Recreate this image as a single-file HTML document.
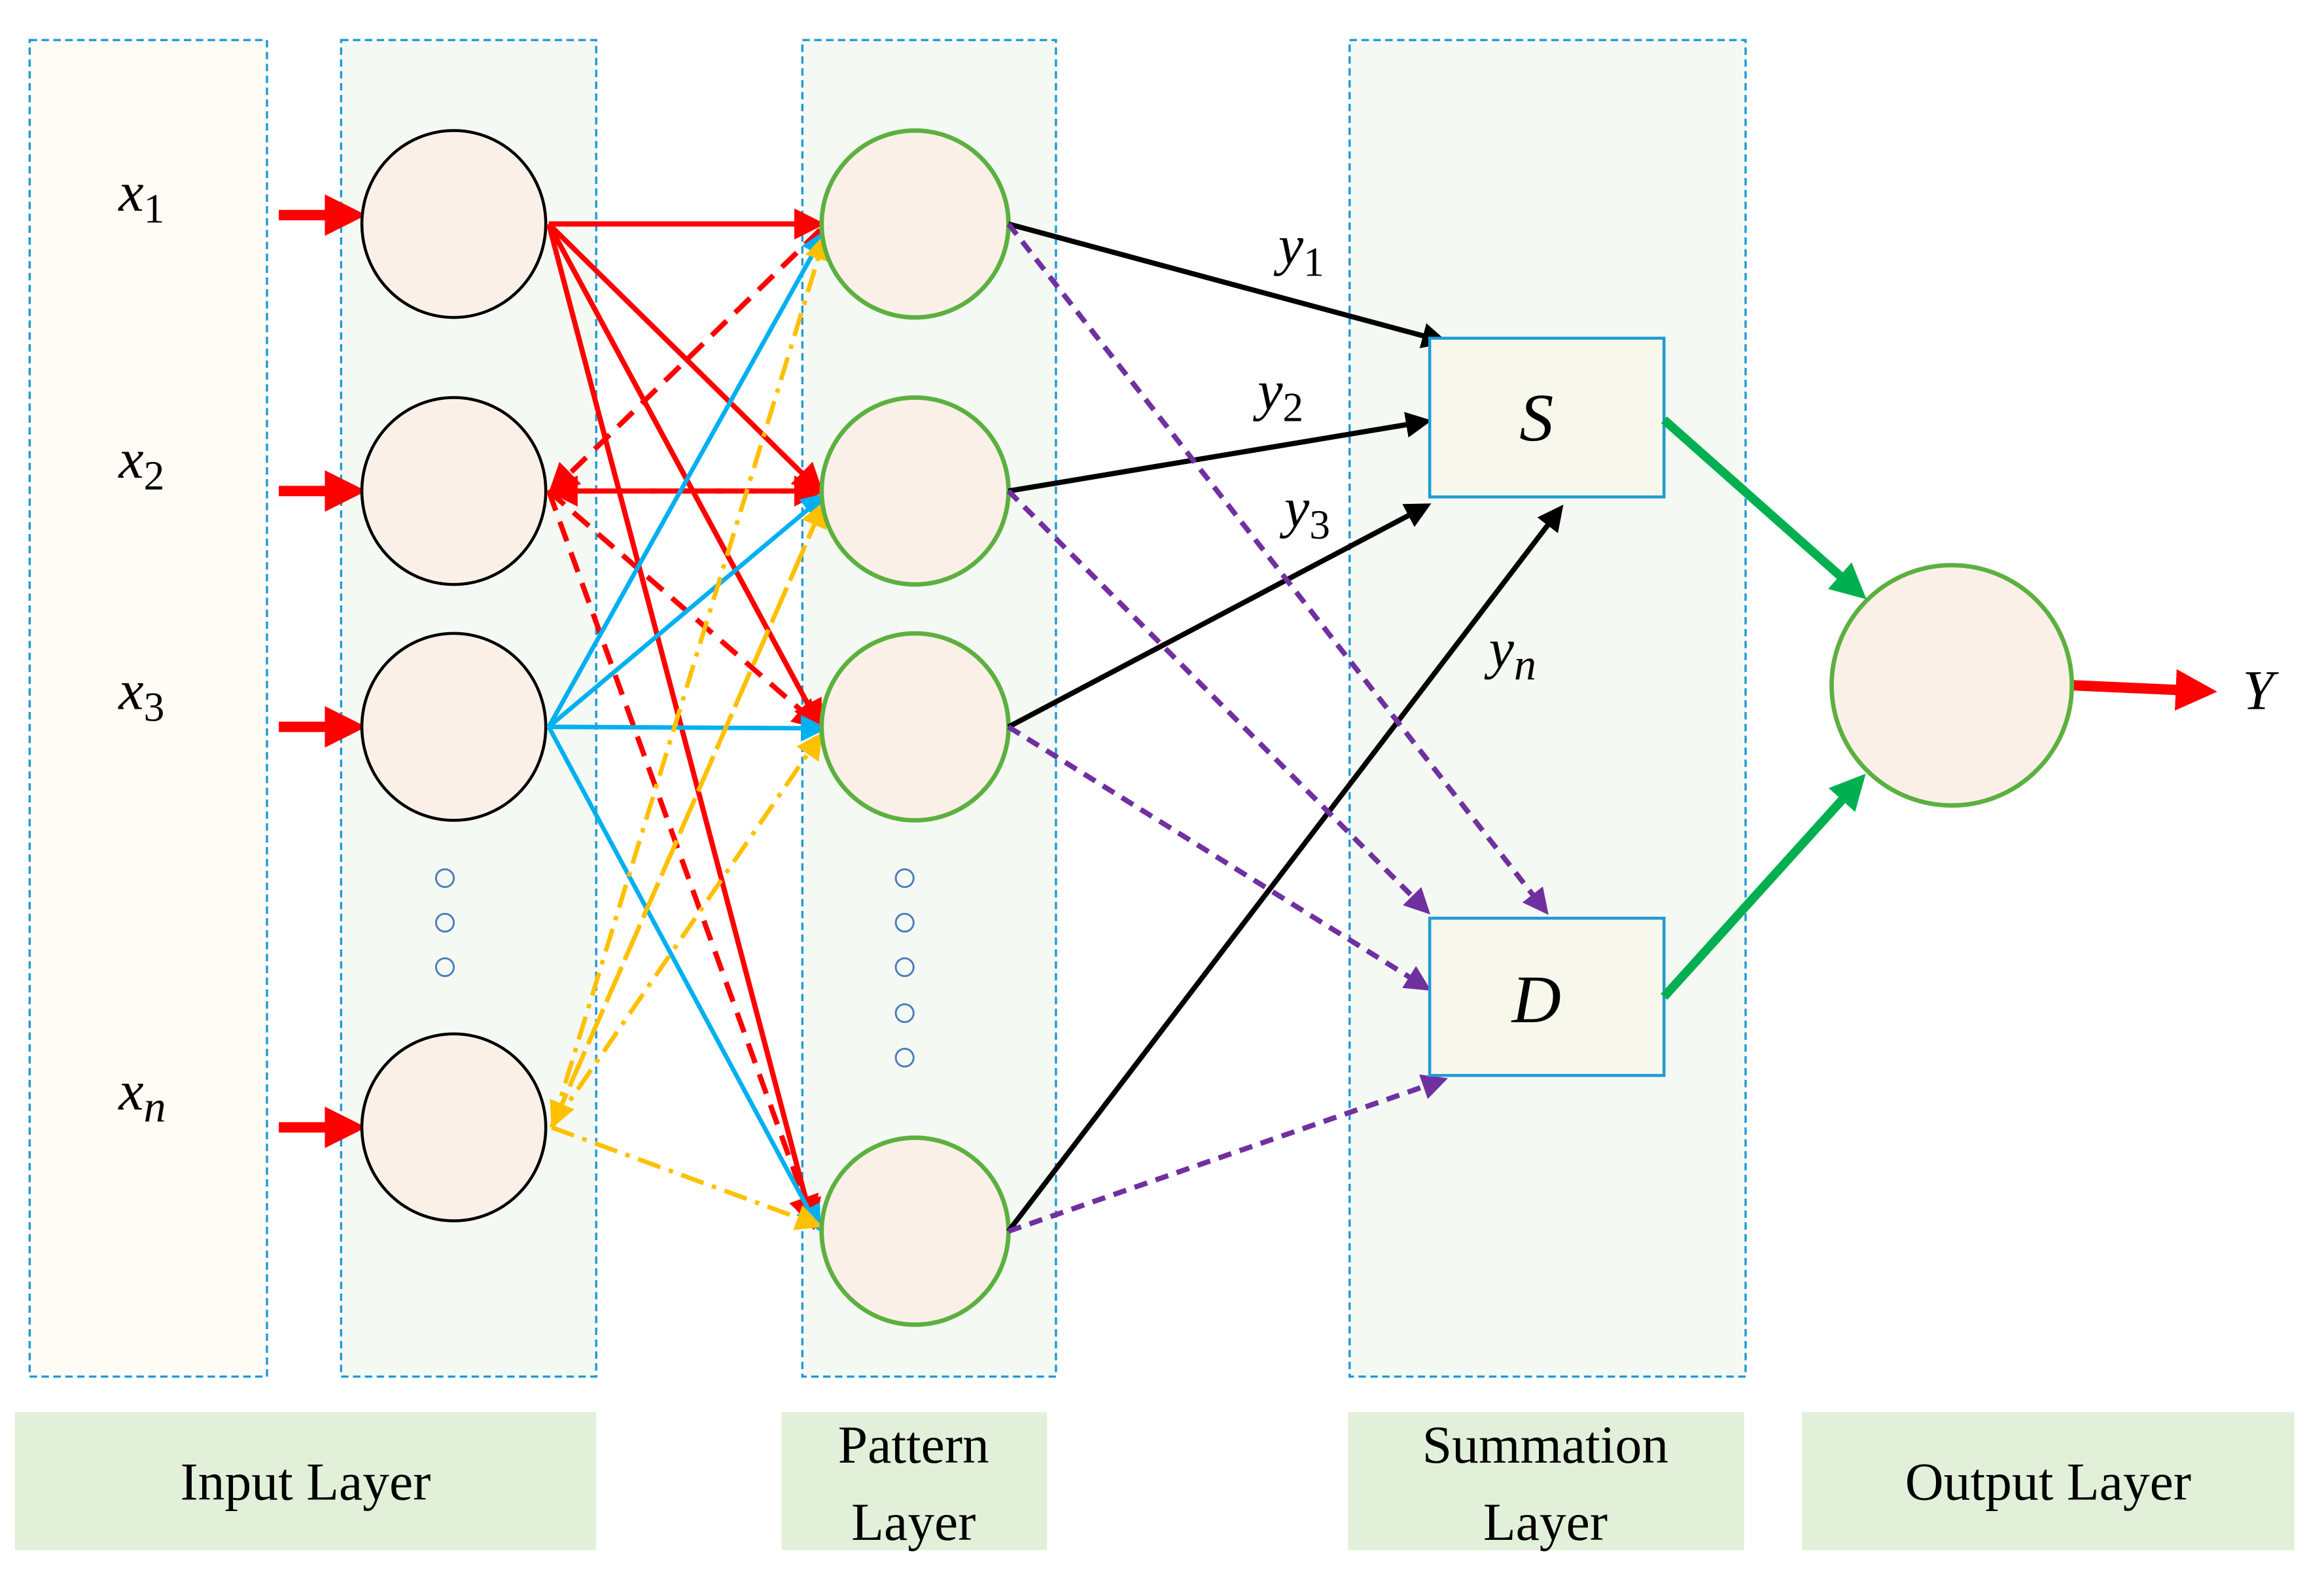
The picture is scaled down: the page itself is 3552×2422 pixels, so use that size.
<!DOCTYPE html>
<html><head><style>html,body{margin:0;padding:0;background:#fff}svg{display:block}</style></head><body>
<svg width="3552" height="2422" viewBox="0 0 1567 1068.5" preserveAspectRatio="none" xmlns="http://www.w3.org/2000/svg" font-family="'Liberation Serif',serif">
<defs>
<marker id="ar" markerWidth="6" markerHeight="6" refX="5" refY="3" orient="auto" markerUnits="strokeWidth"><path d="M0,0L6,3L0,6z" fill="#f00"/></marker>
<marker id="ac" markerWidth="6" markerHeight="6" refX="5" refY="3" orient="auto" markerUnits="strokeWidth"><path d="M0,0L6,3L0,6z" fill="#00b0f0"/></marker>
<marker id="ao" markerWidth="6" markerHeight="6" refX="5" refY="3" orient="auto" markerUnits="strokeWidth"><path d="M0,0L6,3L0,6z" fill="#ffc000"/></marker>
<marker id="ak" markerWidth="5" markerHeight="5" refX="4" refY="2.5" orient="auto" markerUnits="strokeWidth"><path d="M0,0L5,2.5L0,5z" fill="#000"/></marker>
<marker id="ap" markerWidth="5" markerHeight="5" refX="4" refY="2.5" orient="auto" markerUnits="strokeWidth"><path d="M0,0L5,2.5L0,5z" fill="#7030a0"/></marker>
<marker id="ag" markerWidth="4" markerHeight="4" refX="3" refY="2" orient="auto" markerUnits="strokeWidth"><path d="M0,0L4,2L0,4z" fill="#00b050"/></marker>
<marker id="aR" markerWidth="4" markerHeight="4" refX="3" refY="2" orient="auto" markerUnits="strokeWidth"><path d="M0,0L4,2L0,4z" fill="#f00"/></marker>
</defs>
<g stroke="#1f9ad6" stroke-width="1.5" stroke-dasharray="5,3">
<rect x="20" y="27" width="160" height="901" fill="#fffbf5"/>
<rect x="230" y="27" width="172" height="901" fill="#f5f9f3"/>
<rect x="541" y="27" width="171" height="901" fill="#f5f9f3"/>
<rect x="910" y="27" width="267" height="901" fill="#f5f9f3"/>
</g>
<g fill="#e2f0d9">
<rect x="10" y="952" width="392" height="93"/><rect x="527" y="952" width="179" height="93"/>
<rect x="909" y="952" width="267" height="93"/><rect x="1215" y="952" width="332" height="93"/>
</g>
<g font-size="36" text-anchor="middle" fill="#000">
<text x="206" y="1011">Input Layer</text>
<text x="616" y="986">Pattern</text><text x="616" y="1038">Layer</text>
<text x="1042" y="986">Summation</text><text x="1042" y="1038">Layer</text>
<text x="1381" y="1011">Output Layer</text>
</g>
<g font-size="38" font-style="italic">
<text x="80" y="142">x<tspan font-size="28" font-style="normal" dy="8">1</tspan></text>
<text x="80" y="322">x<tspan font-size="28" font-style="normal" dy="8">2</tspan></text>
<text x="80" y="478">x<tspan font-size="28" font-style="normal" dy="8">3</tspan></text>
<text x="80" y="748">x<tspan font-size="30" dy="8">n</tspan></text>
<text x="862" y="178">y<tspan font-size="28" font-style="normal" dy="8">1</tspan></text>
<text x="848" y="276">y<tspan font-size="28" font-style="normal" dy="8">2</tspan></text>
<text x="866" y="355">y<tspan font-size="28" font-style="normal" dy="8">3</tspan></text>
<text x="1004" y="450">y<tspan font-size="30" dy="8">n</tspan></text>
<text x="1512" y="478">Y</text>
</g>
<g stroke="#f00" stroke-width="7" marker-end="url(#aR)">
<line x1="188" y1="145" x2="240" y2="145"/><line x1="188" y1="331" x2="240" y2="331"/>
<line x1="188" y1="490" x2="240" y2="490"/><line x1="188" y1="760" x2="240" y2="760"/>
<line x1="1398" y1="462" x2="1488" y2="466"/>
</g>
<g fill="#fbf0e8" stroke="#000" stroke-width="2">
<ellipse cx="306" cy="151" rx="62" ry="63"/><ellipse cx="306" cy="331" rx="62" ry="63"/>
<ellipse cx="306" cy="490" rx="62" ry="63"/><ellipse cx="306" cy="760" rx="62" ry="63"/>
</g>
<g fill="none" stroke="#4a7ebb" stroke-width="1.3">
<circle cx="300" cy="592" r="6"/><circle cx="300" cy="622" r="6"/><circle cx="300" cy="652" r="6"/>
<circle cx="610" cy="592" r="6"/><circle cx="610" cy="622" r="6"/><circle cx="610" cy="652" r="6"/><circle cx="610" cy="683" r="6"/><circle cx="610" cy="713" r="6"/>
</g>
<g stroke="#f00" stroke-width="3.5" marker-end="url(#ar)">
<line x1="370" y1="151" x2="553" y2="151"/><line x1="370" y1="151" x2="553" y2="331"/>
<line x1="370" y1="151" x2="553" y2="490"/><line x1="370" y1="151" x2="548" y2="826"/>
</g>
<g stroke="#f00" stroke-width="3.5" stroke-dasharray="14,8">
<line x1="553" y1="155" x2="372" y2="331" marker-end="url(#ar)"/>
<line x1="372" y1="331" x2="553" y2="331" marker-end="url(#ar)"/>
<line x1="553" y1="331" x2="372" y2="331" marker-end="url(#ar)"/>
<line x1="370" y1="331" x2="553" y2="490" marker-end="url(#ar)"/>
<line x1="370" y1="331" x2="548" y2="824" marker-end="url(#ar)"/>
</g>
<g stroke="#00b0f0" stroke-width="3" marker-end="url(#ac)">
<line x1="370" y1="490" x2="556" y2="157"/><line x1="370" y1="490" x2="556" y2="334"/>
<line x1="372" y1="490" x2="555" y2="491"/><line x1="370" y1="490" x2="552" y2="828"/>
</g>
<g stroke="#ffc000" stroke-width="3" stroke-dasharray="16,6,3,6">
<line x1="372" y1="760" x2="556" y2="160" marker-end="url(#ao)"/>
<line x1="372" y1="760" x2="555" y2="340" marker-end="url(#ao)"/>
<line x1="372" y1="760" x2="553" y2="496" marker-end="url(#ao)"/>
<line x1="372" y1="760" x2="552" y2="826" marker-end="url(#ao)"/>
<line x1="555" y1="340" x2="373" y2="758" marker-end="url(#ao)"/>
</g>
<g fill="#fbf0e8" stroke="#5cb040" stroke-width="3">
<ellipse cx="617" cy="151" rx="63" ry="63"/><ellipse cx="617" cy="331" rx="63" ry="63"/>
<ellipse cx="617" cy="490" rx="63" ry="63"/><ellipse cx="617" cy="830" rx="63" ry="63"/>
<circle cx="1316" cy="462" r="81"/>
</g>
<g stroke="#000" stroke-width="3.5" marker-end="url(#ak)">
<line x1="680" y1="151" x2="973" y2="230"/><line x1="680" y1="331" x2="962" y2="284"/>
<line x1="680" y1="490" x2="962" y2="341"/><line x1="680" y1="830" x2="1052" y2="343"/>
</g>
<g stroke="#7030a0" stroke-width="3.5" stroke-dasharray="9,6" marker-end="url(#ap)">
<line x1="680" y1="151" x2="1042" y2="614"/><line x1="680" y1="331" x2="962" y2="614"/>
<line x1="680" y1="490" x2="962" y2="666"/><line x1="680" y1="830" x2="973" y2="728"/>
</g>
<g fill="#f8f7ec" stroke="#1f9ad6" stroke-width="2">
<rect x="964" y="228" width="158" height="107"/><rect x="964" y="619" width="158" height="106"/>
</g>
<g font-size="46" font-style="italic" text-anchor="middle">
<text x="1036" y="297">S</text><text x="1036" y="689">D</text>
</g>
<g stroke="#00b050" stroke-width="6" marker-end="url(#ag)">
<line x1="1122" y1="283" x2="1254" y2="400"/><line x1="1122" y1="672" x2="1254" y2="526"/>
</g>
</svg>
</body></html>
